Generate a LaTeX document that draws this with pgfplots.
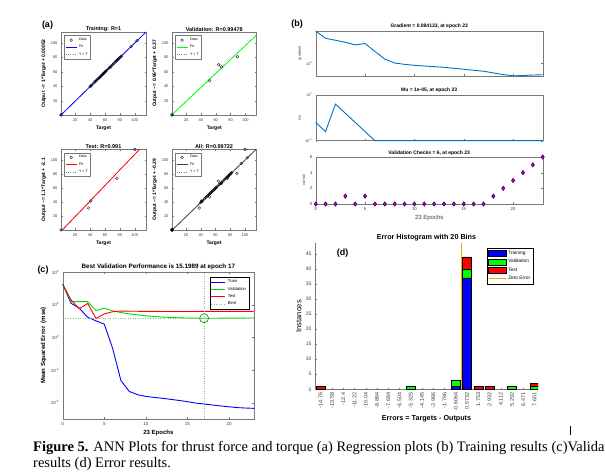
\documentclass[border=0pt]{standalone}
\usepackage{fontspec}
\setmainfont{Liberation Sans}
\newfontfamily\capfont{Liberation Serif}
\usepackage{pgfplots}
\pgfplotsset{compat=1.18}
\definecolor{mblue}{RGB}{0,114,189}
\definecolor{axgray}{RGB}{120,120,120}
\definecolor{txtgray}{RGB}{60,60,60}
\definecolor{zorange}{RGB}{255,165,0}
\definecolor{bestgreen}{RGB}{130,190,130}
\pgfplotsset{
  mat/.style={
    scale only axis, anchor=south west,
    axis line style={axgray, line width=0.4pt},
    every tick/.style={axgray, line width=0.3pt},
    major tick length=1.5pt, tick align=inside,
    tick label style={color=txtgray, font=\fontsize{4}{4.5}\selectfont},
    /pgf/number format/assume math mode=true,
    title style={font=\bfseries\fontsize{5.5}{6}\selectfont, inner sep=1pt},
    xlabel style={inner sep=1pt},
    ylabel style={inner sep=1pt},
    legend cell align=left,
  },
  reg/.style={mat, xmin=1, xmax=115, ymin=1, ymax=115,
    xtick={20,40,60,80,100}, ytick={20,40,60,80,100},
    xlabel={Target},
    title style={yshift=-6.5pt},
    label style={font=\bfseries\fontsize{5}{5.5}\selectfont},
    legend style={at={(0.04,0.96)}, anchor=north west, draw=axgray, line width=0.3pt,
      font=\fontsize{3.6}{3.6}\selectfont, inner sep=0.7pt, row sep=-0.8pt, fill=white},
    legend image code/.code={\draw[mark repeat=2,mark phase=2,##1] plot coordinates {(0pt,0pt) (5.5pt,0pt) (11pt,0pt)};},
  },
  dat/.style={only marks, mark=o, mark size=1.4pt, black, mark options={line width=0.3pt}},
}
\pgfplotstableread{
x y
1 1
1 1
40 40
41 41
42 42
45 45
47 47
48 48
50 50
51 51
52 52
53 53
54 54
55 55
56 56
57 57
58 58
59 59
60 60
61 61
62 62
65 65
66 66
67 67
68 68
70 70
72 72
74 74
75 75
76 76
77 77
78 78
79 79
80 80
81 81
82 82
95 95
103 103
}\trainpts
\pgfplotstableread{
x y
1 1
1 1.3
52 48
64 70
68 67
89 81
}\valpts
\pgfplotstableread{
x y
1 1
38 32
41 42
76 74
100 115
}\testpts
\begin{document}
\begin{tikzpicture}
\useasboundingbox (0,0) rectangle (605pt,473pt);
% ---------- (a) ----------
\node[font=\bfseries\fontsize{9}{9}\selectfont] at (47.5pt,447.5pt) {(a)};
\begin{axis}[reg, at={(61pt,358pt)}, width=85pt, height=83pt,
  title={Training: R=1}, ylabel={Output \textasciitilde= 1*Target + 0.00052}]
\addlegendimage{dat}\addlegendentry{Data}
\addlegendimage{blue, line width=0.8pt}\addlegendentry{Fit}
\addlegendimage{gray, dotted, line width=0.4pt}\addlegendentry{Y = T}
\addplot[gray, dotted, forget plot] coordinates {(1,1) (115,115)};
\addplot[blue, line width=0.8pt, forget plot] coordinates {(1,1.0005) (115,115.0005)};
\addplot[dat, forget plot] table {\trainpts};
\end{axis}
\begin{axis}[reg, at={(172pt,358pt)}, width=84.5pt, height=83pt,
  title={Validation: R=0.99478}, ylabel={Output \textasciitilde= 0.96*Target + 0.37}]
\addlegendimage{dat}\addlegendentry{Data}
\addlegendimage{green, line width=0.8pt}\addlegendentry{Fit}
\addlegendimage{gray, dotted, line width=0.4pt}\addlegendentry{Y = T}
\addplot[gray, dotted, forget plot] coordinates {(1,1) (115,115)};
\addplot[green, line width=0.8pt, forget plot] coordinates {(1,1.33) (115,110.77)};
\addplot[dat, forget plot] table {\valpts};
\end{axis}
\begin{axis}[reg, at={(61pt,243pt)}, width=85pt, height=80.7pt,
  title={Test: R=0.991}, ylabel={Output \textasciitilde= 1.1*Target + -2.1}]
\addlegendimage{dat}\addlegendentry{Data}
\addlegendimage{red, line width=0.8pt}\addlegendentry{Fit}
\addlegendimage{gray, dotted, line width=0.4pt}\addlegendentry{Y = T}
\addplot[gray, dotted, forget plot] coordinates {(1,1) (115,115)};
\addplot[red, line width=0.8pt, forget plot] coordinates {(1,-1) (115,124.4)};
\addplot[dat, forget plot] table {\testpts};
\end{axis}
\begin{axis}[reg, at={(172pt,243pt)}, width=84pt, height=80.7pt,
  title={All: R=0.99722}, ylabel={Output \textasciitilde= 1*Target + -0.29}]
\addlegendimage{dat}\addlegendentry{Data}
\addlegendimage{black!75, line width=0.8pt}\addlegendentry{Fit}
\addlegendimage{gray, dotted, line width=0.4pt}\addlegendentry{Y = T}
\addplot[gray, dotted, forget plot] coordinates {(1,1) (115,115)};
\addplot[black!75, line width=0.8pt, forget plot] coordinates {(1,0.71) (115,114.71)};
\addplot[dat, forget plot] table {\trainpts};
\addplot[dat, forget plot] table {\valpts};
\addplot[dat, forget plot] table {\testpts};
\end{axis}
% ---------- (b) ----------
\node[font=\bfseries\fontsize{9}{9}\selectfont] at (297pt,448.5pt) {(b)};
\begin{axis}[mat, at={(315.7pt,397pt)}, width=227pt, height=45pt, ymode=log,
  xmin=0, xmax=23, ymin=0.063, ymax=1500, clip=false,
  xtick={0,5,10,15,20}, xticklabels={}, ytick={1}, yticklabels={10\textsuperscript{0}},
  title={Gradient = 0.084133, at epoch 23}, title style={font=\bfseries\fontsize{5}{5}\selectfont, yshift=-5pt},
  ylabel={gradient}, ylabel style={font=\fontsize{3.8}{4}\selectfont, color=txtgray},
  tick label style={font=\fontsize{3.6}{4}\selectfont}]
\addplot[mblue, line width=0.9pt] coordinates {
(0,1479) (1,292) (2,188) (3,120) (4,67) (5,90) (6,15.3) (7,2.8) (8,1.15) (9,0.86)
(10,0.69) (11,0.59) (12,0.51) (13,0.44) (14,0.355) (15,0.284) (16,0.228) (17,0.183)
(18,0.126) (19,0.087) (20,0.065) (21,0.07) (22,0.078) (23,0.084133)};
\end{axis}
\begin{axis}[mat, at={(315.7pt,332.3pt)}, width=227pt, height=45.7pt, ymode=log,
  xmin=0, xmax=23, ymin=1e-5, ymax=1, clip=false,
  xtick={0,5,10,15,20}, xticklabels={}, ytick={1e-5,1}, yticklabels={10\textsuperscript{-5},10\textsuperscript{0}},
  title={Mu = 1e-05, at epoch 23}, title style={font=\bfseries\fontsize{5}{5}\selectfont, yshift=-5pt},
  ylabel={mu}, ylabel style={font=\fontsize{3.8}{4}\selectfont, color=txtgray},
  tick label style={font=\fontsize{3.6}{4}\selectfont}]
\addplot[mblue, line width=0.9pt] coordinates {
(0,1e-3) (1,1e-4) (2,0.1) (3,0.01) (4,1e-3) (5,1e-4) (6,1e-5) (7,1e-5) (8,1e-5) (9,1e-5)
(10,1e-5) (11,1e-5) (12,1e-5) (13,1e-5) (14,1e-5) (15,1e-5) (16,1e-5) (17,1e-5)
(18,1e-5) (19,1e-5) (20,1e-5) (21,1e-5) (22,1e-5) (23,1e-5)};
\end{axis}
\begin{axis}[mat, at={(315.7pt,269pt)}, width=227pt, height=47pt,
  xmin=0, xmax=23, ymin=0, ymax=6, clip=false,
  xtick={0,5,10,15,20}, ytick={0,2,4,6},
  title={Validation Checks = 6, at epoch 23}, title style={font=\bfseries\fontsize{5}{5}\selectfont, yshift=-6pt},
  xlabel={23 Epochs}, xlabel style={font=\fontsize{6}{6}\selectfont, color=txtgray},
  ylabel={val fail}, ylabel style={font=\fontsize{3.8}{4}\selectfont, color=txtgray},
  tick label style={font=\fontsize{4.3}{4.5}\selectfont}]
\addplot[only marks, mark=diamond*, mark size=2.2pt, mark options={fill=red, draw=blue!80!black, line width=0.5pt}] coordinates {
(0,0) (1,0) (2,0) (3,1) (4,0) (5,1) (6,0) (7,0) (8,0) (9,0) (10,0) (11,0)
(12,0) (13,0) (14,0) (15,0) (16,0) (17,0) (18,1) (19,2) (20,3) (21,4) (22,5) (23,6)};
\end{axis}
% ---------- (c) ----------
\node[font=\bfseries\fontsize{9}{9}\selectfont] at (43pt,202.5pt) {(c)};
\begin{axis}[mat, at={(62.7pt,54pt)}, width=191.3pt, height=146.7pt, ymode=log,
  xmin=0, xmax=23, ymin=1e-5, ymax=1e4,
  xtick={0,5,10,15,20}, ytick={1e-4,1e-2,1,1e2,1e4},
  yticklabels={10\textsuperscript{-4},10\textsuperscript{-2},10\textsuperscript{0},10\textsuperscript{2},10\textsuperscript{4}},
  tick label style={font=\fontsize{4.5}{5}\selectfont},
  title={Best Validation Performance is 15.1989 at epoch 17},
  title style={font=\bfseries\fontsize{6.3}{7}\selectfont, yshift=-5pt},
  xlabel={23 Epochs}, ylabel={Mean Squared Error\ \ (mse)},
  label style={font=\bfseries\fontsize{6}{6.5}\selectfont},
  legend style={at={(0.974,0.968)}, anchor=north east, draw=black, line width=0.3pt,
    font=\fontsize{4.2}{4.5}\selectfont, inner sep=0.8pt, row sep=-1.2pt},
  legend image code/.code={\draw[#1] (0pt,0pt) -- (14pt,0pt);}]
\addplot[blue, line width=0.9pt] coordinates {
(0,1860) (1,126) (2,63) (3,17.4) (4,10.5) (5,6.6) (6,0.22) (7,0.0023) (8,4.9e-4)
(9,3.1e-4) (10,2.45e-4) (11,2.1e-4) (12,1.86e-4) (13,1.6e-4) (14,1.38e-4) (15,1.15e-4)
(16,9.5e-5) (17,8.3e-5) (18,7.2e-5) (19,6.3e-5) (20,5.6e-5) (21,5.0e-5) (22,4.7e-5) (23,4.5e-5)};
\addlegendentry{Train}
\addplot[green!85!black, line width=0.9pt] coordinates {
(0,1860) (1,158) (2,158) (3,158) (4,45) (5,63) (6,43) (7,34) (8,28) (9,24.5)
(10,21.4) (11,19.5) (12,17.8) (13,17) (14,16.2) (15,15.6) (16,15.3) (17,15.1989)
(18,15.2) (19,15.3) (20,15.4) (21,15.5) (22,15.6) (23,15.7)};
\addlegendentry{Validation}
\addplot[red, line width=0.9pt] coordinates {
(0,1860) (1,204) (2,58) (3,123) (4,14.8) (5,28) (6,38) (7,42) (8,41) (9,40.5)
(10,40) (11,40) (12,39.5) (13,39.5) (14,39.5) (15,39.5) (16,39.5) (17,39.8)
(18,40) (19,40) (20,40.2) (21,40.3) (22,40.4) (23,40.5)};
\addlegendentry{Test}
\addplot[bestgreen, dotted, line width=0.5pt] coordinates {(0,15.1989) (23,15.1989)};
\addlegendentry{Best}
\addplot[bestgreen, dotted, line width=0.5pt, forget plot] coordinates {(17,1e-5) (17,1e4)};
\addplot[only marks, mark=o, mark size=4.5pt, green!55!black, mark options={line width=0.6pt}, forget plot] coordinates {(17,15.1989)};
\end{axis}
% ---------- (d) ----------
\begin{axis}[mat, at={(315pt,83.7pt)}, width=223pt, height=146pt,
  ybar stacked, bar width=0.8, xmin=-0.5, xmax=19.3, ymin=0, ymax=48.5,
  axis lines*=left, axis line style={-, axgray},
  xtick={0,...,19},
  xticklabels={-14.76,-13.58,-12.4,-11.22,-10.04,-8.864,-7.684,-6.504,-5.325,-4.145,-2.966,-1.786,-0.6064,0.5732,1.753,2.932,4.112,5.292,6.471,7.651},
  xticklabel style={rotate=90, anchor=east, font=\fontsize{5.4}{5.5}\selectfont},
  ytick={0,5,...,45},
  yticklabel style={font=\fontsize{5}{5}\selectfont},
  title={Error Histogram with 20 Bins}, title style={font=\bfseries\fontsize{7.2}{8}\selectfont, yshift=-5pt},
  xlabel={Errors = Targets - Outputs}, xlabel style={font=\bfseries\fontsize{7.2}{8}\selectfont},
  ylabel={Instances}, ylabel style={font=\fontsize{7.5}{8}\selectfont}]
\addplot[fill=blue, draw=black, line width=0.3pt] coordinates {
(0,0) (1,0) (2,0) (3,0) (4,0) (5,0) (6,0) (7,0) (8,0) (9,0) (10,0) (11,0) (12,1) (13,37) (14,0) (15,0) (16,0) (17,0) (18,0) (19,0)};
\addplot[fill=green, draw=black, line width=0.3pt] coordinates {
(0,0) (1,0) (2,0) (3,0) (4,0) (5,0) (6,0) (7,0) (8,1) (9,0) (10,0) (11,0) (12,2) (13,3) (14,0) (15,0) (16,0) (17,1) (18,0) (19,1)};
\addplot[fill=red, draw=black, line width=0.3pt] coordinates {
(0,1) (1,0) (2,0) (3,0) (4,0) (5,0) (6,0) (7,0) (8,0) (9,0) (10,0) (11,0) (12,0) (13,4) (14,1) (15,1) (16,0) (17,0) (18,0) (19,1)};
\end{axis}
\begin{axis}[mat, at={(315pt,83.7pt)}, width=223pt, height=146pt,
  xmin=-0.5, xmax=19.3, ymin=0, ymax=48.5, hide axis,
  legend style={at={(0.978,0.968)}, anchor=north east, draw=black, line width=0.3pt,
    font=\fontsize{4.8}{5}\selectfont, inner sep=0.8pt, row sep=-0.5pt}]
\addlegendimage{area legend, fill=blue, draw=black}\addlegendentry{Training}
\addlegendimage{area legend, fill=green, draw=black}\addlegendentry{Validation}
\addlegendimage{area legend, fill=red, draw=black}\addlegendentry{Test}
\addplot[zorange, line width=1.2pt] coordinates {(12.514,0) (12.514,48.5)};
\addlegendentry{Zero Error}
\end{axis}
\node[font=\bfseries\fontsize{9}{9}\selectfont] at (342.5pt,220pt) {(d)};
\draw[line width=0.7pt] (570pt,38pt) -- (570pt,47pt);
% ---------- caption ----------
\node[anchor=base west, inner sep=0, font=\capfont\fontsize{14.5}{16}\selectfont] at (33pt,21pt)
  {\textbf{Figure 5.} ANN Plots for thrust force and torque (a) Regression plots (b) Training results (c)Validation};
\node[anchor=base west, inner sep=0, font=\capfont\fontsize{14.5}{16}\selectfont] at (33pt,5pt)
  {results (d) Error results.};
\end{tikzpicture}
\end{document}
